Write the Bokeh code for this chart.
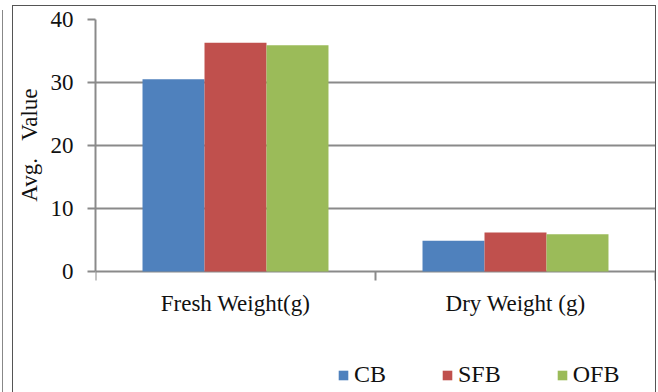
from bokeh.plotting import figure
from bokeh.models import (FactorRange, Range1d, FixedTicker, ColumnDataSource,
                          Legend, LegendItem, InlineStyleSheet, Title)
from bokeh.core.properties import value
from bokeh.transform import dodge
from bokeh.embed import file_html
from bokeh.resources import INLINE

# data
categories = ["Fresh Weight(g)", "Dry Weight (g)"]
series = ["CB", "SFB", "OFB"]
cb = [30.5, 4.9]
sfb = [36.3, 6.2]
ofb = [35.9, 5.9]
y_ticks = [0, 10, 20, 30, 40]

# style
colors = ["#4F81BD", "#C0504D", "#9BBB59"]
FONT = "Liberation Serif"
GRAY = "#8a8a8a"
TEXT = "#111111"
BAR_W = 0.2214

# layout: the value axis spans 252 px (0..40); the plotting area continues
# 121 px further down so the category names and legend sit inside it
W, H = 658, 392
TOP, LEFT, RIGHT = 19, 95, 3
AXIS_PX = 252
Y_MAX = y_ticks[-1]
units_per_px = Y_MAX / AXIS_PX
y_bottom = -(H - TOP - AXIS_PX) * units_per_px
TICK_PX = 9

p = figure(width=W, height=H,
           x_range=FactorRange(factors=categories, range_padding=0),
           y_range=Range1d(y_bottom, Y_MAX),
           output_backend="svg", toolbar_location=None,
           x_axis_location=None,
           min_border_left=LEFT, min_border_right=RIGHT, min_border_top=TOP,
           min_border_bottom=0)
p.outline_line_color = None
p.background_fill_color = "white"
p.border_fill_color = "white"

# y axis, limited to the value range, and horizontal grid
yax = p.yaxis[0]
yax.bounds = (0, Y_MAX)
yax.ticker = FixedTicker(ticks=y_ticks)
yax.axis_line_color = GRAY
yax.axis_line_width = 2
yax.major_tick_line_color = GRAY
yax.major_tick_line_width = 2
yax.major_tick_out = 8
yax.major_tick_in = 0
yax.minor_tick_out = 0
yax.minor_tick_in = 0
yax.major_label_standoff = 14
yax.major_label_text_font = FONT
yax.major_label_text_font_size = "23px"
yax.major_label_text_color = TEXT

# y axis title, centred on the 0..40 span rather than the whole plotting area
p.add_layout(Title(text="Avg.\u00a0\u00a0\u00a0Value", align="right", offset=69,
                   standoff=12, text_font=FONT, text_font_size="23px",
                   text_font_style="normal", text_color=TEXT), "left")

p.ygrid.ticker = FixedTicker(ticks=y_ticks)
p.ygrid.grid_line_color = GRAY
p.ygrid.grid_line_width = 2
p.xgrid.grid_line_color = None

# category axis: the zero grid line is the axis line; tick marks on the
# category boundaries (synthetic coordinates 0, 1, 2) and centred names
edges = list(range(len(categories) + 1))
p.segment(x0=edges, x1=edges, y0=[0] * len(edges),
          y1=[-TICK_PX * units_per_px] * len(edges),
          line_color=GRAY, line_width=2)
p.text(x=categories, y=[0] * len(categories), text=categories,
       y_offset=19, text_align="center", text_baseline="top",
       text_font=value(FONT), text_font_size="23px", text_color=TEXT)

# grouped bars
src = ColumnDataSource(dict(cat=categories, CB=cb, SFB=sfb, OFB=ofb))
offsets = [-BAR_W, 0, BAR_W]
items = []
for name, col, off in zip(series, colors, offsets):
    r = p.vbar(x=dodge("cat", off, range=p.x_range), top=name, width=BAR_W,
               source=src, fill_color=col, line_color=None)
    items.append(LegendItem(label=name, renderers=[r]))

legend = Legend(items=items, orientation="horizontal", location=(242, 4),
                padding=0, margin=0, spacing=55, label_standoff=5,
                glyph_width=12, glyph_height=12,
                label_text_font=FONT, label_text_font_size="24px",
                label_text_color=TEXT,
                border_line_color=None, background_fill_alpha=0)
p.add_layout(legend)

# chart frame lines around the canvas
p.stylesheets = [InlineStyleSheet(css="""
:host { position: relative; }
:host::after {
  content: ""; position: absolute; left: 12px; top: 5px; width: 644px; height: 387px;
  box-sizing: border-box; border: 1.5px solid #555; border-bottom: none;
  pointer-events: none; z-index: 10;
}
:host::before {
  content: ""; position: absolute; left: 1.5px; top: 10px; width: 0; height: 382px;
  border-left: 1px solid #888; pointer-events: none; z-index: 10;
}
""")]

open("out.html", "w").write(file_html(p, INLINE))
